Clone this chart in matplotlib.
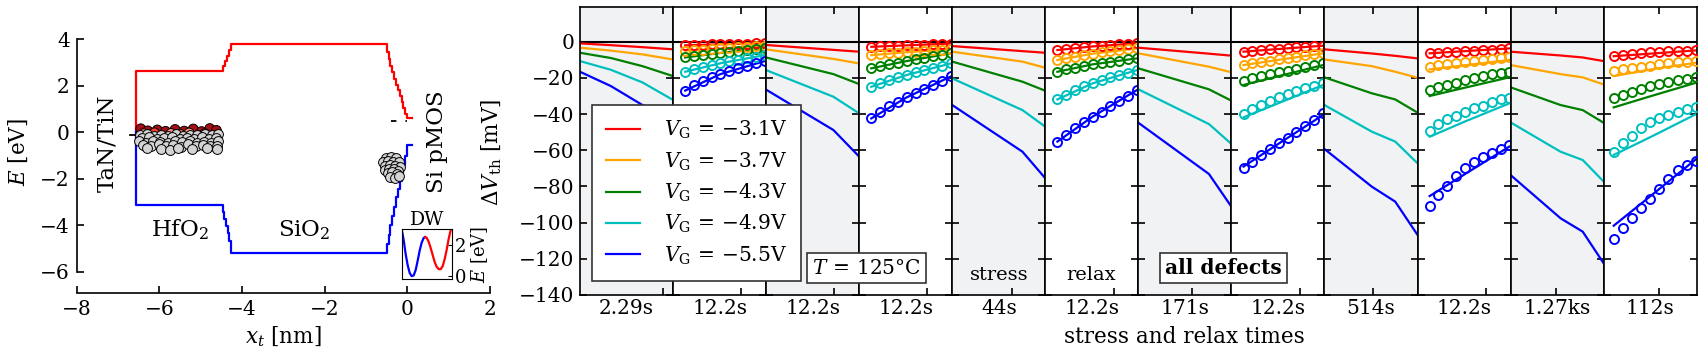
import matplotlib
matplotlib.use("Agg")
import matplotlib.pyplot as plt
from matplotlib.ticker import NullLocator

plt.rcParams["font.family"] = ["DejaVu Serif"]
plt.rcParams["mathtext.fontset"] = "dejavuserif"

W, H = 1703, 363


def fx(px):
    return px / W


def fy(py):
    return 1 - py / H


# ==========================
# Data: band diagram
# ==========================

cb_x = [-6.56, -6.56, -4.51, -4.46, -4.41, -4.36, -4.31, -4.26,
        -0.54, -0.50, -0.455, -0.41, -0.365, -0.32, -0.275, -0.23,
        -0.185, -0.14, -0.095, -0.05, 0.0, 0.12]
cb_y = [0.0, 2.65, 2.65, 2.85, 3.05, 3.3, 3.55, 3.8,
        3.8, 3.45, 3.15, 2.85, 2.6, 2.3, 2.05, 1.8,
        1.55, 1.3, 1.05, 0.8, 0.6, 0.6]

vb_x = [-6.56, -6.56, -4.51, -4.47, -4.43, -4.39, -4.35, -4.31, -4.27,
        -0.54, -0.50, -0.455, -0.41, -0.365, -0.32, -0.275, -0.23,
        -0.185, -0.14, -0.095, -0.05, 0.0, 0.12]
vb_y = [0.0, -3.15, -3.15, -3.45, -3.75, -4.05, -4.35, -4.7, -5.2,
        -5.2, -4.8, -4.4, -4.0, -3.6, -3.2, -2.8, -2.45,
        -2.1, -1.75, -1.4, -1.0, -0.55, -0.55]

# traps in HfO2: charged ones (drawn first) and neutral grey ones on top
charged_x = [-6.45, -6.28, -6.05, -5.85, -5.62, -5.40, -5.18, -4.98, -4.78, -4.62,
             -6.38, -6.12, -5.72, -5.50, -5.28, -4.90]
charged_y = [0.15, 0.06, 0.10, 0.04, 0.12, 0.05, 0.14, 0.03, 0.16, 0.08,
             -0.06, -0.02, -0.05, -0.08, -0.03, -0.06]
charged_c = ["#a50f15"] * 10 + ["#fc9272", "#ef3b2c", "#fc9272", "#fb6a4a", "#fc9272", "#ef3b2c"]

hfo2_x = [-6.48, -6.30, -6.12, -5.95, -5.78, -5.60, -5.42, -5.25, -5.08, -4.90, -4.72, -4.58,
          -6.42, -6.25, -6.05, -5.88, -5.70, -5.50, -5.33, -5.15, -4.98, -4.80, -4.62,
          -6.50, -6.33, -6.15, -5.98, -5.80, -5.62, -5.45, -5.27, -5.10, -4.92, -4.75, -4.58,
          -6.40, -6.20, -6.02, -5.85, -5.66, -5.48, -5.30, -5.12, -4.95, -4.77, -4.60,
          -6.30, -5.95, -5.75, -5.55, -5.20, -4.85, -4.60]
hfo2_y = [-0.12, -0.08, -0.15, -0.10, -0.14, -0.09, -0.16, -0.10, -0.13, -0.07, -0.12, -0.06,
          -0.26, -0.22, -0.29, -0.24, -0.19, -0.28, -0.23, -0.30, -0.21, -0.27, -0.24,
          -0.38, -0.44, -0.37, -0.42, -0.47, -0.39, -0.43, -0.36, -0.45, -0.40, -0.46, -0.38,
          -0.55, -0.58, -0.50, -0.60, -0.54, -0.62, -0.52, -0.59, -0.55, -0.60, -0.57,
          -0.68, -0.70, -0.75, -0.66, -0.72, -0.68, -0.72]

# traps near the Si interface
sio2_x = [-0.52, -0.40, -0.27, -0.58, -0.47, -0.34, -0.21, -0.53, -0.42, -0.30, -0.18,
          -0.55, -0.44, -0.33, -0.22, -0.48, -0.37, -0.26, -0.42, -0.31, -0.20]
sio2_y = [-1.10, -1.06, -1.12, -1.30, -1.24, -1.28, -1.30, -1.45, -1.40, -1.45, -1.50,
          -1.62, -1.56, -1.60, -1.66, -1.76, -1.72, -1.80, -1.92, -1.96, -1.86]

# double well inset
dw_blue_x = [0.0, 0.04, 0.08, 0.12, 0.16, 0.20, 0.24, 0.28, 0.32, 0.36, 0.40, 0.44, 0.47]
dw_blue_e = [3.0, 2.3, 1.4, 0.7, 0.2, 0.0, 0.05, 0.4, 1.0, 1.65, 2.15, 2.45, 2.5]
dw_red_x = [0.47, 0.50, 0.54, 0.58, 0.62, 0.66, 0.70, 0.74, 0.78, 0.82, 0.86, 0.90, 0.94, 0.98, 1.0]
dw_red_e = [2.5, 2.45, 2.2, 1.8, 1.35, 0.9, 0.6, 0.45, 0.45, 0.65, 1.1, 1.7, 2.4, 2.95, 3.0]

# ==========================
# Data: MSM sequence
# ==========================

colors = ["#ff0000", "#ffa500", "#008000", "#00bfbf", "#0000ff"]
gate_voltages = ["3.1", "3.7", "4.3", "4.9", "5.5"]

seg_labels = ["2.29s", "12.2s", "12.2s", "12.2s", "44s", "12.2s",
              "171s", "12.2s", "514s", "12.2s", "1.27ks", "112s"]
seg_ends = [2.29, 12.2, 12.2, 12.2, 44, 12.2, 171, 12.2, 514, 12.2, 1270, 112]

stress_times = [
    [0.001, 0.013, 0.18, 2.29],
    [0.001, 0.9, 12.2],
    [0.001, 3.2, 44],
    [0.001, 9.3, 171],
    [0.001, 0.8, 22, 514],
    [0.001, 1.9, 54, 1270],
]
stress_dvth = [
    [[-0.9, -1.9, -3.0, -4.2], [-3.3, -4.9, -7.0, -9.8], [-6.1, -9.0, -13.5, -19.0],
     [-10.7, -15.5, -22.5, -32.2], [-16.6, -24.5, -35.0, -48.0]],
    [[-1.8, -4.5, -5.5], [-4.2, -9.5, -12.0], [-8.7, -17.9, -23.4],
     [-15.7, -30.4, -39.6], [-26.5, -48.8, -63.5]],
    [[-2.4, -5.2, -6.1], [-5.5, -11.0, -14.4], [-11.0, -22.1, -27.1],
     [-20.3, -37.8, -47.0], [-35.0, -60.8, -75.5]],
    [[-3.3, -6.6, -7.7], [-6.4, -13.8, -16.9], [-14.7, -26.3, -32.6],
     [-26.3, -45.5, -56.5], [-44.8, -73.1, -91.2]],
    [[-4.2, -6.5, -7.8, -9.2], [-9.8, -13.5, -16.6, -19.9], [-19.7, -28.5, -31.9, -39.2],
     [-35.0, -49.7, -55.2, -67.2], [-59.3, -80.1, -88.4, -106.8]],
    [[-5.5, -7.6, -8.7, -10.7], [-12.9, -17.9, -19.7, -23.6], [-25.2, -35.0, -37.8, -44.8],
     [-44.6, -60.8, -65.4, -77.3], [-73.7, -97.6, -105.0, -122.5]],
]

relax_times_short = [0.0034, 0.0083, 0.020, 0.049, 0.12, 0.30, 0.72, 1.78, 4.4, 10.6]
relax_times_long = [0.0035, 0.011, 0.034, 0.105, 0.33, 1.05, 3.2, 10.2, 32, 100]

# measured recovery (circles)
relax_dvth = [
    [[-2.0, -1.8, -1.7, -1.5, -1.4, -1.2, -1.1, -1.0, -0.8, -0.7],
     [-5.0, -4.6, -4.3, -4.0, -3.7, -3.4, -3.1, -2.8, -2.5, -2.2],
     [-8.7, -8.0, -7.4, -6.8, -6.2, -5.6, -5.0, -4.5, -3.9, -3.4],
     [-16.6, -15.2, -14.0, -12.9, -11.9, -10.9, -10.0, -9.1, -8.2, -7.4],
     [-27.0, -24.0, -21.5, -19.7, -17.9, -16.2, -14.5, -13.3, -12.0, -10.7]],
    [[-2.8, -2.6, -2.4, -2.2, -2.0, -1.8, -1.6, -1.4, -1.2, -1.0],
     [-7.4, -6.9, -6.5, -6.1, -5.8, -5.4, -5.1, -4.8, -4.5, -4.2],
     [-14.7, -13.5, -12.5, -11.6, -10.7, -9.8, -9.0, -8.1, -7.2, -6.4],
     [-24.9, -23.0, -21.2, -19.7, -18.4, -16.9, -15.7, -14.4, -13.3, -12.0],
     [-42.4, -38.7, -35.5, -33.1, -30.8, -28.5, -26.3, -23.9, -21.5, -19.2]],
    [[-4.6, -4.0, -3.5, -3.0, -2.6, -2.2, -1.9, -1.5, -1.2, -0.9],
     [-10.1, -9.0, -8.2, -7.4, -6.6, -5.9, -5.3, -4.8, -4.2, -3.7],
     [-16.6, -15.3, -14.4, -13.4, -12.5, -12.0, -11.2, -10.7, -9.8, -9.2],
     [-31.9, -29.5, -26.7, -24.5, -23.0, -21.2, -19.7, -18.4, -17.1, -15.7],
     [-55.2, -51.6, -47.5, -44.2, -41.4, -38.7, -35.5, -32.8, -29.8, -26.7]],
    [[-5.5, -5.0, -4.6, -4.2, -3.8, -3.5, -3.1, -2.8, -2.5, -2.2],
     [-12.9, -12.0, -11.2, -10.4, -9.6, -8.9, -8.2, -7.5, -6.9, -6.4],
     [-21.5, -20.2, -19.1, -18.0, -17.0, -16.0, -15.0, -14.0, -13.0, -12.0],
     [-40.0, -37.2, -34.8, -32.7, -30.8, -29.0, -27.3, -25.7, -24.2, -22.7],
     [-70.0, -66.5, -62.8, -59.5, -56.2, -53.0, -49.8, -46.5, -43.0, -39.6]],
    [[-6.4, -6.1, -5.8, -5.5, -5.2, -4.9, -4.6, -4.3, -4.0, -3.7],
     [-13.8, -13.0, -12.3, -11.7, -11.1, -10.5, -10.0, -9.5, -9.1, -8.7],
     [-26.7, -24.9, -23.9, -22.7, -21.2, -20.3, -19.0, -18.0, -17.1, -16.6],
     [-49.4, -45.5, -42.7, -41.0, -39.0, -36.8, -35.4, -33.5, -31.9, -31.0],
     [-90.6, -84.7, -79.6, -74.0, -70.0, -66.7, -63.5, -61.7, -59.3, -57.1]],
    [[-8.0, -7.3, -6.7, -6.2, -5.9, -5.6, -5.3, -5.1, -5.0, -4.8],
     [-16.0, -15.1, -14.4, -13.8, -13.3, -12.5, -12.0, -11.4, -11.0, -10.7],
     [-31.3, -29.5, -27.6, -26.2, -24.5, -23.4, -22.5, -21.2, -20.6, -19.7],
     [-61.1, -56.2, -51.9, -47.9, -44.6, -42.4, -40.5, -38.7, -37.2, -35.9],
     [-109.0, -103.1, -97.6, -92.1, -86.9, -81.4, -75.9, -70.9, -68.1, -65.9]],
]

# simulated recovery (lines), at first, fifth and last measurement time
relax_model = [
    [[-2.0, -1.4, -0.7], [-5.0, -3.7, -2.2], [-8.7, -6.2, -3.4], [-16.6, -11.9, -7.4], [-27.0, -17.9, -10.7]],
    [[-2.8, -2.0, -1.0], [-7.4, -5.8, -4.2], [-14.7, -10.7, -6.4], [-24.9, -18.4, -12.0], [-42.4, -30.8, -19.2]],
    [[-4.6, -2.6, -0.9], [-10.1, -6.6, -3.7], [-16.6, -12.5, -9.2], [-31.9, -23.0, -15.7], [-55.2, -41.4, -26.7]],
    [[-5.5, -4.0, -2.2], [-12.9, -10.0, -6.4], [-23.9, -19.0, -12.9], [-41.8, -33.9, -23.9], [-69.0, -56.3, -40.5]],
    [[-6.4, -5.2, -3.7], [-15.3, -13.0, -10.1], [-30.0, -25.4, -19.7], [-52.5, -44.1, -34.1], [-85.3, -73.2, -58.0]],
    [[-8.0, -6.6, -4.8], [-19.0, -15.4, -11.6], [-36.3, -30.2, -22.7], [-62.6, -52.8, -40.1], [-101.7, -85.5, -65.0]],
]

fig = plt.figure(figsize=(W / 100, H / 100), dpi=100)

# ==========================
# Band diagram
# ==========================

ax0 = fig.add_axes([fx(76.7), fy(293.3), fx(490) - fx(76.7), fy(34.7) - fy(293.3)])
ax0.plot(cb_x, cb_y, color="#ff0000", lw=1.6, drawstyle="steps-post")
ax0.plot(vb_x, vb_y, color="#0000ff", lw=1.6, drawstyle="steps-post")
ax0.plot([-6.72, -6.5], [-0.1, -0.1], color="k", lw=1.3)
ax0.plot([-0.4, 0.0], [0.5, 0.5], color="k", lw=1.3, dashes=(3, 5))
ax0.scatter(charged_x, charged_y, s=50, c=charged_c, edgecolors="k", linewidths=0.7, zorder=3)
ax0.scatter(hfo2_x, hfo2_y, s=50, c="#d4d4d4", edgecolors="k", linewidths=0.7, zorder=4)
ax0.scatter(sio2_x, sio2_y, s=50, c="#d4d4d4", edgecolors="k", linewidths=0.7, zorder=4)

ax0.set_xlim(-8, 2)
ax0.set_ylim(-6.93, 4.2)
ax0.set_xticks([-8, -6, -4, -2, 0, 2])
ax0.set_xticklabels(["\u22128", "\u22126", "\u22124", "\u22122", "0", "2"])
ax0.set_yticks([-6, -4, -2, 0, 2, 4])
ax0.set_yticklabels(["\u22126", "\u22124", "\u22122", "0", "2", "4"])
ax0.spines["top"].set_visible(False)
ax0.spines["right"].set_visible(False)
ax0.spines["left"].set_bounds(-6, 4)
ax0.spines["bottom"].set_bounds(-8, 2)
for sp in ax0.spines.values():
    sp.set_linewidth(1.2)
ax0.tick_params(direction="in", length=5, width=1.2, labelsize=14.5, pad=5)

ax0.text(-7.27, -0.46, "TaN/TiN", rotation=90, ha="center", va="center", fontsize=16.5)
ax0.text(0.72, -0.4, "Si pMOS", rotation=90, ha="center", va="center", fontsize=16.5)
ax0.text(-5.5, -4.2, r"HfO$_2$", ha="center", va="center", fontsize=16.5)
ax0.text(-2.5, -4.2, r"SiO$_2$", ha="center", va="center", fontsize=16.5)

fig.text(fx(283), fy(336.7), r"$x_t$ [nm]", ha="center", va="center", fontsize=15.5)
fig.text(fx(18), fy(151.7), r"$E$ [eV]", ha="center", va="center", rotation=90, fontsize=15.5)

# inset: double well
axi = fig.add_axes([fx(401.7), fy(279.3), fx(50), fy(229.3) - fy(279.3)])
axi.plot(dw_blue_x, dw_blue_e, color="#0000ff", lw=1.6)
axi.plot(dw_red_x, dw_red_e, color="#ff0000", lw=1.6)
axi.set_xlim(0, 1)
axi.set_ylim(-0.2, 3.0)
axi.set_xticks([])
axi.set_yticks([0, 2])
axi.yaxis.tick_right()
axi.yaxis.set_label_position("right")
axi.tick_params(direction="in", length=3, labelsize=13, pad=2)
axi.set_ylabel(r"$E$ [eV]", fontsize=13, labelpad=2)
axi.set_title("DW", fontsize=13.5, pad=2)

# ==========================
# Stress / relax sequence
# ==========================

seg_w = 93.06
axes = []
for i in range(12):
    ax = fig.add_axes([fx(580 + i * seg_w), fy(295), fx(seg_w), fy(7) - fy(295)])
    axes.append(ax)
    ax.set_xscale("log")
    ax.set_xlim(1e-3, seg_ends[i])
    ax.set_ylim(-140, 19.2)
    ax.axhline(0, color="k", lw=1.5, zorder=1)
    k = i // 2
    if i % 2 == 0:
        ax.set_facecolor("#f1f2f4")
        for c in range(5):
            ax.plot(stress_times[k], stress_dvth[k][c], color=colors[c], lw=1.6, zorder=2)
    else:
        t = relax_times_long if seg_ends[i] > 50 else relax_times_short
        for c in range(5):
            ax.plot([t[0], t[4], t[-1]], relax_model[k][c], color=colors[c], lw=1.6, zorder=2)
            ax.plot(t, relax_dvth[k][c], ls="none", marker="o", ms=6.5, mfc="none",
                    mec=colors[c], mew=1.4, zorder=3)
    ax.set_xticks([1])
    ax.xaxis.set_minor_locator(NullLocator())
    ax.set_yticks([0, -20, -40, -60, -80, -100, -120, -140])
    ax.set_yticklabels(["0", "\u221220", "\u221240", "\u221260", "\u221280",
                        "\u2212100", "\u2212120", "\u2212140"])
    ax.tick_params(direction="in", top=True, right=True, length=5, width=1.2,
                   labelsize=14.5, labelbottom=False, labelleft=(i == 0), pad=4)
    for sp in ax.spines.values():
        sp.set_linewidth(1.2)
    ax.set_xlabel(seg_labels[i], fontsize=14.5, labelpad=3)

fig.text(fx(491.7), fy(152), r"$\Delta V_{\rm th}$ [mV]", rotation=90,
         ha="center", va="center", fontsize=15.5)
fig.text(fx(1184), fy(336.7), "stress and relax times", ha="center", va="center", fontsize=15.5)

handles = [axes[0].lines[c + 1] for c in range(5)]
labels = [r"$V_{\rm G}\,=\,{-}%s$V" % v for v in gate_voltages]
leg = fig.legend(handles, labels, loc="upper left", bbox_to_anchor=(fx(591.7), fy(105)),
                 borderaxespad=0, fancybox=False, edgecolor="#333333", framealpha=1,
                 fontsize=14.5, handlelength=1.7, handletextpad=1.2, labelspacing=0.45,
                 borderpad=0.7)
leg.get_frame().set_linewidth(1.2)

box = dict(boxstyle="square,pad=0.25", fc="white", ec="#333333", lw=1.2)
fig.text(fx(866.7), fy(268), r"$T\,=\,125$°C", ha="center", va="center", fontsize=14.5, bbox=box)
fig.text(fx(998.7), fy(275), "stress", ha="center", va="center", fontsize=14)
fig.text(fx(1091.4), fy(275), "relax", ha="center", va="center", fontsize=14)
fig.text(fx(1223.7), fy(268), "all defects", ha="center", va="center", fontsize=14.5,
         fontweight="bold", bbox=box)

fig.savefig("out.png", dpi=100)
